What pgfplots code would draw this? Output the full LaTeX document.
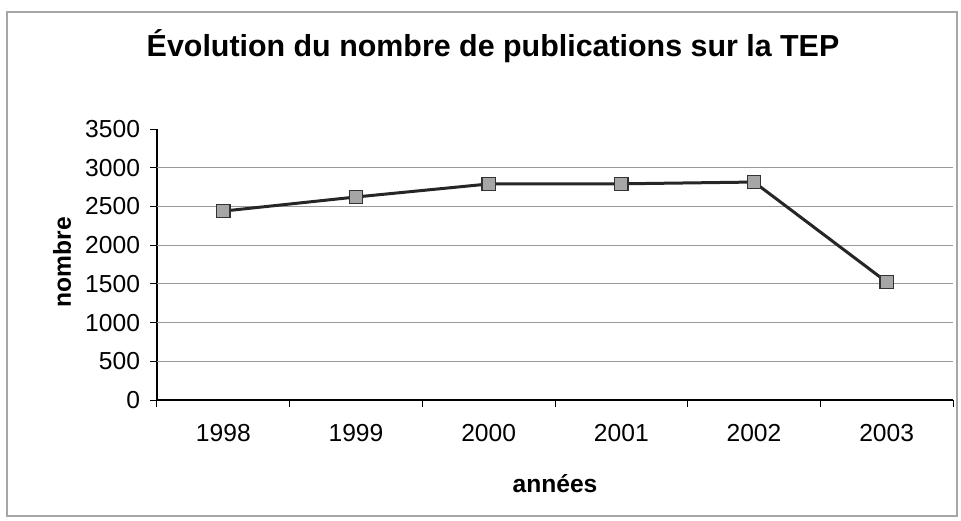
\documentclass[border=0pt]{standalone}
\usepackage{pgfplots}
\pgfplotsset{compat=1.18}
\usepackage{fontspec}
\setmainfont{Liberation Sans}

\begin{document}
\begin{tikzpicture}
\useasboundingbox (-78.5bp,-60.5bp) rectangle (402bp,200bp);
\draw[gray!70, line width=0.8bp] (-75bp,-58bp) rectangle (400bp,194bp);
\begin{axis}[
    at={(0,0)}, anchor=south west,
    scale only axis,
    width=398bp, height=135.5bp,
    xmin=-0.5, xmax=5.5,
    ymin=0, ymax=3500,
    axis lines=left,
    axis line style={-, black, line width=0.6bp},
    xtick={-0.5,0.5,...,5.5},
    xticklabels={1998,1999,2000,2001,2002,2003},
    x tick label as interval=true,
    ytick={0,500,...,3500},
    tick align=outside,
    major tick length=3.5bp,
    tick style={black, line width=0.5bp},
    extra y ticks={500,1000,...,3000},
    extra y tick labels={},
    extra y tick style={grid=major, major tick length=0pt},
    grid style={gray!80, line width=0.6bp},
    ticklabel style={font=\fontsize{12.3bp}{14bp}\selectfont},
    yticklabel style={xshift=-1.5bp},
    xticklabel style={yshift=-5bp},
    /pgf/number format/assume math mode=true,
    /pgf/number format/1000 sep={},
    clip=false,
  ]
  \addplot[color=black!85, line width=1.5bp,
    mark=square*, mark size=3.3bp,
    mark options={fill=gray!70, draw=black!80, line width=0.6bp}]
    coordinates {
      (0,2440)
      (1,2622)
      (2,2790)
      (3,2792)
      (4,2815)
      (5,1524)
    };
\end{axis}
\node[font=\bfseries\fontsize{15.2bp}{17bp}\selectfont] at (168bp,177bp)
  {Évolution du nombre de publications sur la TEP};
\node[font=\bfseries\fontsize{12.3bp}{14bp}\selectfont] at (199bp,-42bp) {années};
\node[font=\bfseries\fontsize{12.3bp}{14bp}\selectfont, rotate=90] at (-47.5bp,69bp) {nombre};
\end{tikzpicture}
\end{document}
